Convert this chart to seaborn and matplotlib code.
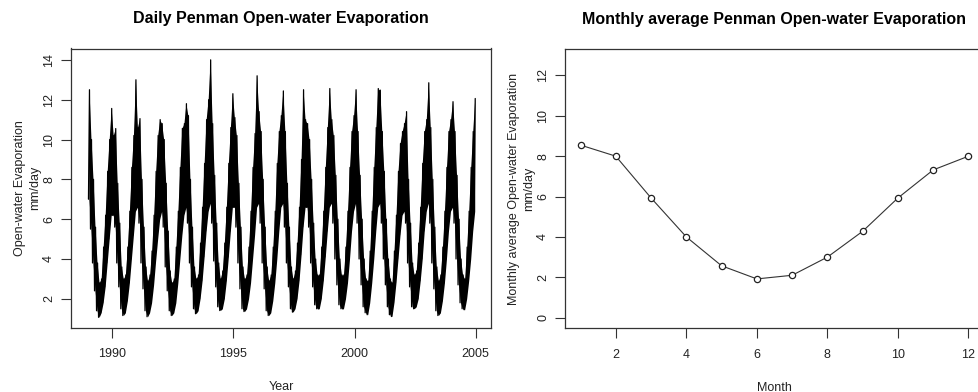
import numpy as np
import pandas as pd
import matplotlib
matplotlib.use("Agg")
import matplotlib.pyplot as plt
import seaborn as sns

# ---- data ----
years = list(range(1989, 2005))
# monthly low / high envelope of the daily series (Jan..Dec), mm/day
month_low = [
    [7.0, 5.5, 3.8, 2.4, 1.4, 1.07, 1.3, 1.8, 2.6, 3.8, 5.0, 6.2],   # 1989
    [6.2, 5.6, 3.8, 2.6, 1.5, 1.16, 1.3, 1.9, 2.8, 4.0, 5.2, 6.4],   # 1990
    [6.6, 5.8, 3.8, 2.5, 1.4, 1.1, 1.3, 1.8, 2.7, 3.9, 5.0, 6.0],    # 1991
    [6.4, 5.6, 3.6, 2.4, 1.4, 1.16, 1.3, 1.8, 2.8, 4.0, 5.2, 6.2],   # 1992
    [6.6, 5.8, 3.8, 2.6, 1.5, 1.25, 1.4, 2.0, 2.9, 4.1, 5.4, 6.4],   # 1993
    [6.8, 5.8, 3.9, 2.6, 1.6, 1.41, 1.5, 2.0, 2.9, 4.1, 5.4, 6.6],   # 1994
    [6.6, 5.6, 3.8, 2.5, 1.5, 1.36, 1.5, 2.0, 2.8, 4.0, 5.2, 6.6],   # 1995
    [6.8, 5.8, 3.8, 2.5, 1.4, 1.16, 1.3, 1.9, 2.8, 4.0, 5.4, 6.6],   # 1996
    [6.8, 5.6, 3.8, 2.6, 1.5, 1.33, 1.5, 2.0, 2.9, 4.2, 5.6, 6.6],   # 1997
    [6.6, 5.6, 3.8, 2.6, 1.7, 1.5, 1.5, 2.0, 2.9, 4.1, 5.4, 6.6],    # 1998
    [6.8, 5.8, 4.0, 2.7, 1.7, 1.5, 1.5, 2.0, 2.8, 4.0, 5.4, 6.4],    # 1999
    [6.8, 5.8, 4.0, 2.7, 1.6, 1.3, 1.2, 1.8, 2.8, 4.0, 5.4, 6.6],    # 2000
    [6.8, 5.8, 4.0, 2.7, 1.6, 1.2, 1.11, 1.8, 2.8, 4.0, 5.2, 6.2],   # 2001
    [6.4, 5.8, 3.8, 2.6, 1.6, 1.5, 1.6, 2.0, 2.9, 4.0, 5.4, 6.4],    # 2002
    [6.8, 5.8, 3.8, 2.5, 1.4, 1.16, 1.3, 1.9, 2.8, 4.0, 5.4, 6.4],   # 2003
    [6.6, 5.8, 4.0, 2.7, 1.8, 1.5, 1.45, 2.0, 2.9, 4.0, 5.4, 6.4],   # 2004
]
month_high = [
    [12.5, 10.0, 8.0, 5.6, 3.8, 2.8, 3.0, 4.6, 6.2, 8.4, 10.0, 11.56],   # 1989
    [10.2, 10.55, 7.8, 5.8, 3.6, 3.0, 3.2, 4.6, 6.4, 8.6, 10.2, 13.0],   # 1990
    [10.6, 11.05, 8.0, 5.6, 3.6, 2.9, 3.2, 4.4, 6.2, 8.4, 10.2, 11.0],   # 1991
    [10.8, 10.0, 7.8, 5.4, 3.4, 2.8, 3.0, 4.6, 6.4, 8.6, 10.56, 10.8],   # 1992
    [11.8, 11.2, 8.0, 5.6, 3.6, 3.0, 3.2, 4.8, 6.6, 8.8, 11.0, 12.0],    # 1993
    [14.0, 10.8, 8.2, 5.8, 3.8, 3.0, 3.4, 4.8, 6.6, 8.8, 10.6, 12.3],    # 1994
    [11.1, 10.2, 7.8, 5.6, 3.6, 3.0, 3.2, 4.6, 6.4, 8.6, 10.3, 13.2],    # 1995
    [11.4, 10.4, 8.0, 5.6, 3.6, 2.9, 3.2, 4.6, 6.4, 8.8, 10.4, 11.2],    # 1996
    [12.44, 10.4, 7.8, 5.6, 3.6, 3.0, 3.4, 4.8, 6.6, 9.0, 12.5, 11.0],   # 1997
    [10.8, 10.0, 8.0, 5.8, 4.0, 3.2, 3.2, 4.6, 6.4, 8.6, 10.6, 12.56],   # 1998
    [11.0, 10.2, 8.2, 6.0, 4.0, 3.2, 3.2, 4.6, 6.4, 8.6, 10.4, 11.2],    # 1999
    [12.5, 10.4, 8.2, 6.0, 4.0, 3.0, 2.9, 4.4, 6.4, 8.6, 10.6, 12.56],   # 2000
    [12.48, 10.4, 8.4, 6.0, 4.0, 3.0, 2.8, 4.4, 6.2, 8.4, 9.8, 10.4],    # 2001
    [10.8, 11.4, 8.0, 5.8, 3.8, 3.2, 3.4, 4.8, 6.6, 8.8, 10.4, 11.0],    # 2002
    [12.85, 10.6, 8.0, 5.6, 3.6, 2.9, 3.2, 4.6, 6.4, 8.6, 10.4, 11.0],   # 2003
    [11.9, 10.4, 8.2, 6.0, 4.0, 3.2, 3.0, 4.6, 6.4, 8.6, 10.4, 12.06],   # 2004
]

months = list(range(1, 13))
monthly_avg = [8.55, 8.0, 5.93, 4.0, 2.57, 1.92, 2.1, 3.0, 4.28, 5.93, 7.32, 8.0]

year_ticks = [1990, 1995, 2000, 2005]
left_yticks = [2, 4, 6, 8, 10, 12, 14]
month_ticks = [2, 4, 6, 8, 10, 12]
right_yticks = [0, 2, 4, 6, 8, 10, 12]

# ---- build tables ----
rows = []
band = []
for yi, yr in enumerate(years):
    for mi in range(12):
        lo = month_low[yi][mi]
        hi = month_high[yi][mi]
        rows.append((yr + (mi + 0.25) / 12.0, lo))
        rows.append((yr + (mi + 0.75) / 12.0, hi))
        band.append((yr + (mi + 0.5) / 12.0, lo, hi))
daily = pd.DataFrame(rows, columns=["year", "evap"])
band = pd.DataFrame(band, columns=["year", "lo", "hi"])
monthly = pd.DataFrame({"month": months, "evap": monthly_avg})

sns.set_theme(style="white")
plt.rcParams["font.family"] = ["Liberation Sans", "DejaVu Sans"]

fig = plt.figure(figsize=(9.79, 3.92), dpi=100)
ax1 = fig.add_axes([71 / 979, 1 - 327.5 / 392, 420 / 979, 279 / 392])
ax2 = fig.add_axes([565 / 979, 1 - 328 / 392, 419 / 979, 279 / 392])

ax1.fill_between(band["year"], band["lo"], band["hi"], color="black",
                 linewidth=0)
sns.lineplot(data=daily, x="year", y="evap", ax=ax1, color="black",
             linewidth=0.9, estimator=None, sort=False)
sns.lineplot(data=monthly, x="month", y="evap", ax=ax2, color="#333333",
             linewidth=0.8, marker="o", markersize=4.5,
             markerfacecolor="white", markeredgecolor="#222222",
             markeredgewidth=0.9, estimator=None)

ax1.set_xlim(1988.3, 2005.63)
ax1.set_ylim(0.56, 14.57)
ax1.set_xticks(year_ticks)
ax1.set_yticks(left_yticks)
ax2.set_xlim(0.56, 12.44)
ax2.set_ylim(-0.512, 13.31)
ax2.set_xticks(month_ticks)
ax2.set_yticks(right_yticks)

txt = "#222222"
for ax in (ax1, ax2):
    for sp in ax.spines.values():
        sp.set_visible(True)
        sp.set_color("#333333")
        sp.set_linewidth(0.9)
    ax.tick_params(bottom=True, left=True, direction="out", length=7,
                   width=0.8, color="#333333", labelsize=9, pad=8,
                   labelcolor=txt)
    ax.tick_params(axis="y", labelrotation=90, pad=4.4)
    for lab in ax.get_yticklabels():
        lab.set_va("center")
    ax.grid(False)

ax1.set_title("Daily Penman Open-water Evaporation", fontsize=11.5,
              fontweight="bold", pad=18, color="black")
ax2.set_title("Monthly average Penman Open-water Evaporation", fontsize=11.5,
              fontweight="bold", pad=18, color="black")
ax1.set_xlabel("Year", fontsize=9, labelpad=15, color=txt)
ax2.set_xlabel("Month", fontsize=9, labelpad=15, color=txt)
ax1.set_ylabel("Open-water Evaporation\nmm/day", fontsize=9, labelpad=1.3,
               color=txt, multialignment="center", linespacing=1.42)
ax2.set_ylabel("Monthly average Open-water Evaporation\nmm/day", fontsize=9,
               labelpad=1.3, color=txt, multialignment="center", linespacing=1.42)

fig.savefig("out.png", dpi=100)
